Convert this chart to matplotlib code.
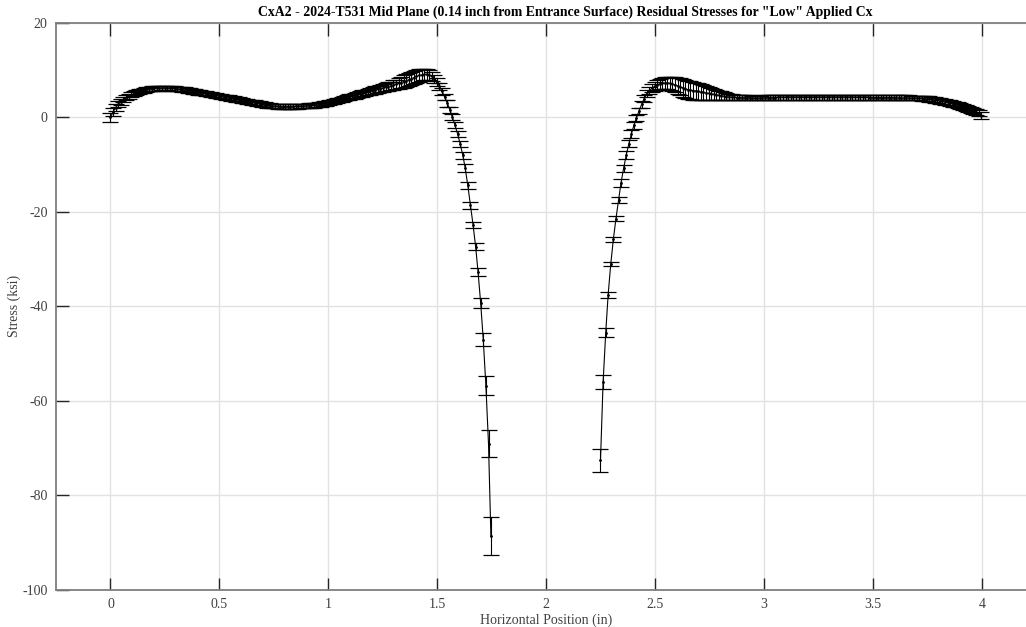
import numpy as np
import matplotlib
matplotlib.use('Agg')
import matplotlib.pyplot as plt

# Residual stress profile along the mid plane, two separate cuts either side of the hole
x_left = [
    0.000, 0.012, 0.024, 0.035, 0.047, 0.059, 0.071, 0.083, 0.094, 0.106,
    0.118, 0.130, 0.142, 0.153, 0.165, 0.177, 0.189, 0.201, 0.212, 0.224,
    0.236, 0.248, 0.260, 0.271, 0.283, 0.295, 0.307, 0.319, 0.330, 0.342,
    0.354, 0.366, 0.378, 0.389, 0.401, 0.413, 0.425, 0.437, 0.448, 0.460,
    0.472, 0.484, 0.496, 0.507, 0.519, 0.531, 0.543, 0.555, 0.566, 0.578,
    0.590, 0.602, 0.614, 0.625, 0.637, 0.649, 0.661, 0.673, 0.684, 0.696,
    0.708, 0.720, 0.732, 0.743, 0.755, 0.767, 0.779, 0.791, 0.802, 0.814,
    0.826, 0.838, 0.850, 0.861, 0.873, 0.885, 0.897, 0.909, 0.920, 0.932,
    0.944, 0.956, 0.968, 0.979, 0.991, 1.003, 1.015, 1.027, 1.038, 1.050,
    1.062, 1.074, 1.086, 1.097, 1.109, 1.121, 1.133, 1.145, 1.156, 1.168,
    1.180, 1.192, 1.204, 1.215, 1.227, 1.239, 1.251, 1.263, 1.274, 1.286,
    1.298, 1.310, 1.322, 1.333, 1.345, 1.357, 1.369, 1.381, 1.392, 1.404,
    1.416, 1.428, 1.440, 1.451, 1.463, 1.475, 1.487, 1.499, 1.510, 1.522,
    1.534, 1.546, 1.558, 1.569, 1.581, 1.593, 1.605, 1.617, 1.628, 1.640,
    1.652, 1.664, 1.676, 1.687, 1.699, 1.711, 1.723, 1.735, 1.746]
s_left = [
    0.0, 1.2, 2.1, 2.8, 3.3, 3.8, 4.2, 4.5, 4.8, 5.0,
    5.25, 5.45, 5.6, 5.75, 5.9, 6.0, 6.1, 6.15, 6.2, 6.2,
    6.25, 6.25, 6.25, 6.2, 6.2, 6.1, 6.05, 6.0, 5.9, 5.85,
    5.75, 5.65, 5.55, 5.45, 5.35, 5.25, 5.15, 5.05, 4.95, 4.85,
    4.75, 4.65, 4.55, 4.45, 4.35, 4.25, 4.15, 4.05, 3.95, 3.85,
    3.75, 3.6, 3.5, 3.4, 3.3, 3.2, 3.1, 3.0, 2.9, 2.8,
    2.7, 2.6, 2.5, 2.45, 2.4, 2.35, 2.3, 2.3, 2.3, 2.3,
    2.3, 2.3, 2.35, 2.35, 2.4, 2.4, 2.45, 2.5, 2.55, 2.6,
    2.65, 2.7, 2.8, 2.9, 3.0, 3.1, 3.25, 3.4, 3.55, 3.7,
    3.85, 4.0, 4.15, 4.3, 4.45, 4.6, 4.75, 4.9, 5.05, 5.2,
    5.35, 5.5, 5.65, 5.8, 5.95, 6.1, 6.25, 6.4, 6.55, 6.7,
    6.85, 7.0, 7.2, 7.4, 7.6, 7.8, 8.0, 8.2, 8.45, 8.7,
    8.9, 9.0, 9.1, 9.1, 9.0, 8.7, 8.2, 7.5, 6.6, 5.5,
    4.3, 3.0, 1.6, 0.1, -1.6, -3.5, -5.6, -8.0, -10.7, -14.4,
    -18.6, -22.7, -27.4, -32.7, -39.3, -47.1, -56.8, -69.1, -88.7]
e_left = [
    0.9, 0.8, 0.7, 0.6, 0.6, 0.55, 0.5, 0.5, 0.5, 0.5,
    0.5, 0.5, 0.5, 0.5, 0.5, 0.5, 0.5, 0.5, 0.5, 0.5,
    0.5, 0.5, 0.5, 0.5, 0.5, 0.5, 0.5, 0.5, 0.5, 0.5,
    0.5, 0.5, 0.5, 0.5, 0.5, 0.5, 0.5, 0.5, 0.5, 0.5,
    0.5, 0.5, 0.5, 0.5, 0.5, 0.5, 0.5, 0.5, 0.5, 0.5,
    0.5, 0.5, 0.5, 0.5, 0.5, 0.5, 0.5, 0.5, 0.5, 0.5,
    0.5, 0.5, 0.5, 0.5, 0.5, 0.5, 0.5, 0.5, 0.5, 0.5,
    0.5, 0.5, 0.5, 0.5, 0.5, 0.5, 0.5, 0.5, 0.5, 0.5,
    0.5, 0.5, 0.5, 0.5, 0.5, 0.5, 0.5, 0.5, 0.5, 0.5,
    0.5, 0.55, 0.55, 0.6, 0.6, 0.6, 0.65, 0.65, 0.7, 0.7,
    0.7, 0.75, 0.75, 0.8, 0.8, 0.8, 0.85, 0.85, 0.9, 0.9,
    1.0, 1.0, 1.1, 1.2, 1.3, 1.4, 1.4, 1.4, 1.4, 1.3,
    1.3, 1.2, 1.2, 1.1, 1.0, 0.9, 0.8, 0.8, 0.7, 0.7,
    0.7, 0.7, 0.7, 0.7, 0.7, 0.7, 0.7, 0.7, 0.75, 0.75,
    0.77, 0.64, 0.74, 0.88, 1.03, 1.38, 1.98, 2.86, 4.0]

x_right = [
    2.249, 2.261, 2.273, 2.284, 2.296, 2.308, 2.320, 2.332, 2.343, 2.355,
    2.367, 2.379, 2.391, 2.402, 2.414, 2.426, 2.438, 2.450, 2.461, 2.473,
    2.485, 2.497, 2.509, 2.520, 2.532, 2.544, 2.556, 2.568, 2.579, 2.591,
    2.603, 2.615, 2.627, 2.638, 2.650, 2.662, 2.674, 2.686, 2.697, 2.709,
    2.721, 2.733, 2.745, 2.756, 2.768, 2.780, 2.792, 2.804, 2.815, 2.827,
    2.839, 2.851, 2.863, 2.874, 2.886, 2.898, 2.910, 2.922, 2.933, 2.945,
    2.957, 2.969, 2.981, 2.992, 3.004, 3.016, 3.028, 3.040, 3.051, 3.063,
    3.075, 3.087, 3.099, 3.110, 3.122, 3.134, 3.146, 3.158, 3.169, 3.181,
    3.193, 3.205, 3.217, 3.228, 3.240, 3.252, 3.264, 3.276, 3.287, 3.299,
    3.311, 3.323, 3.335, 3.346, 3.358, 3.370, 3.382, 3.394, 3.405, 3.417,
    3.429, 3.441, 3.453, 3.464, 3.476, 3.488, 3.500, 3.512, 3.523, 3.535,
    3.547, 3.559, 3.571, 3.582, 3.594, 3.606, 3.618, 3.630, 3.641, 3.653,
    3.665, 3.677, 3.689, 3.700, 3.712, 3.724, 3.736, 3.748, 3.759, 3.771,
    3.783, 3.795, 3.807, 3.818, 3.830, 3.842, 3.854, 3.866, 3.877, 3.889,
    3.901, 3.913, 3.925, 3.936, 3.948, 3.960, 3.972, 3.984, 3.995]
s_right = [
    -72.6, -56.0, -45.6, -37.6, -31.1, -25.8, -21.4, -17.4, -13.9, -10.8,
    -8.0, -5.6, -3.5, -1.7, -0.1, 1.4, 2.8, 4.0, 5.0, 5.7,
    6.2, 6.6, 6.9, 7.1, 7.2, 7.3, 7.3, 7.2, 7.1, 6.9,
    6.7, 6.5, 6.3, 6.1, 5.9, 5.8, 5.7, 5.6, 5.5, 5.4,
    5.3, 5.2, 5.1, 5.0, 4.9, 4.8, 4.7, 4.6, 4.5, 4.4,
    4.35, 4.3, 4.25, 4.2, 4.2, 4.2, 4.2, 4.15, 4.15, 4.1,
    4.1, 4.1, 4.1, 4.15, 4.15, 4.2, 4.2, 4.2, 4.2, 4.25,
    4.25, 4.25, 4.25, 4.3, 4.3, 4.3, 4.3, 4.3, 4.3, 4.3,
    4.3, 4.3, 4.3, 4.3, 4.3, 4.3, 4.3, 4.3, 4.3, 4.3,
    4.3, 4.3, 4.3, 4.3, 4.3, 4.3, 4.3, 4.3, 4.25, 4.25,
    4.25, 4.25, 4.25, 4.25, 4.25, 4.2, 4.2, 4.2, 4.2, 4.2,
    4.2, 4.2, 4.2, 4.2, 4.2, 4.2, 4.15, 4.15, 4.15, 4.15,
    4.15, 4.1, 4.1, 4.1, 4.1, 4.05, 4.0, 3.95, 3.9, 3.8,
    3.7, 3.6, 3.5, 3.4, 3.3, 3.2, 3.05, 2.9, 2.75, 2.6,
    2.4, 2.2, 2.0, 1.8, 1.6, 1.4, 1.2, 0.9, 0.4]
e_right = [
    2.4, 1.5, 0.95, 0.7, 0.45, 0.55, 0.55, 0.65, 0.85, 0.8,
    0.8, 0.75, 0.75, 0.7, 0.7, 0.7, 0.7, 0.7, 0.75, 0.8,
    0.85, 0.9, 1.0, 1.1, 1.2, 1.2, 1.3, 1.4, 1.5, 1.6,
    1.7, 1.8, 1.9, 1.9, 1.9, 1.9, 1.9, 1.8, 1.8, 1.7,
    1.6, 1.5, 1.4, 1.3, 1.2, 1.1, 1.0, 0.9, 0.8, 0.7,
    0.6, 0.6, 0.55, 0.5, 0.5, 0.5, 0.5, 0.5, 0.5, 0.5,
    0.5, 0.5, 0.5, 0.5, 0.5, 0.5, 0.5, 0.5, 0.5, 0.5,
    0.5, 0.5, 0.5, 0.5, 0.5, 0.5, 0.5, 0.5, 0.5, 0.5,
    0.5, 0.5, 0.5, 0.5, 0.5, 0.5, 0.5, 0.5, 0.5, 0.5,
    0.5, 0.5, 0.5, 0.5, 0.5, 0.5, 0.5, 0.5, 0.5, 0.5,
    0.5, 0.5, 0.5, 0.5, 0.5, 0.5, 0.5, 0.5, 0.5, 0.5,
    0.5, 0.5, 0.5, 0.5, 0.5, 0.5, 0.5, 0.5, 0.5, 0.5,
    0.5, 0.5, 0.5, 0.5, 0.5, 0.5, 0.5, 0.5, 0.55, 0.55,
    0.55, 0.55, 0.55, 0.6, 0.6, 0.6, 0.6, 0.6, 0.6, 0.6,
    0.6, 0.6, 0.6, 0.6, 0.6, 0.6, 0.65, 0.65, 0.7]

xticks = [0, 0.5, 1, 1.5, 2, 2.5, 3, 3.5, 4]
xlabels = ['0', '0.5', '1', '1.5', '2', '2.5', '3', '3.5', '4']
yticks = [-100, -80, -60, -40, -20, 0, 20]

title = 'CxA2 - 2024-T531 Mid Plane (0.14 inch from Entrance Surface) Residual Stresses for "Low" Applied Cx'

plt.rcParams['font.family'] = ['Liberation Serif', 'DejaVu Serif']
plt.rcParams['axes.unicode_minus'] = False
txtgray = '#404040'
axgray = '#7f7f7f'

fig = plt.figure(figsize=(10.26, 6.27), dpi=100)
# axes box runs past the right edge of the figure
ax = fig.add_axes([0.0546, 0.0595, 0.9556, 0.9038])

for xs, ss, es in [(x_left, s_left, e_left), (x_right, s_right, e_right)]:
    ax.errorbar(xs, ss, yerr=es, fmt='.-', color='k', ms=2, lw=0.8,
                ecolor='k', elinewidth=0.8, capsize=6, capthick=0.9, zorder=3)

ax.set_xlim(-0.25, 4.25)
ax.set_ylim(-100, 20)
ax.set_xticks(xticks)
ax.set_xticklabels(xlabels)
ax.set_yticks(yticks)
ax.grid(True, color='#e2e2e2', lw=1.0, zorder=0)
ax.set_axisbelow(True)

ax.spines['right'].set_visible(False)
for side in ['left', 'bottom', 'top']:
    ax.spines[side].set_color(axgray)
    ax.spines[side].set_linewidth(1.3)
ax.tick_params(direction='in', length=9, width=1, color='#262626',
               labelsize=10, labelcolor=txtgray, top=True, right=False, pad=6)

ax.set_title(title, fontsize=9.9, fontweight='bold', pad=5, x=0.519)
ax.set_xlabel('Horizontal Position (in)', fontsize=10, color=txtgray, labelpad=2)
ax.set_ylabel('Stress (ksi)', fontsize=10, color=txtgray)
ax.yaxis.set_label_coords(-0.036, 0.5)

plt.savefig('out.png', dpi=100)
